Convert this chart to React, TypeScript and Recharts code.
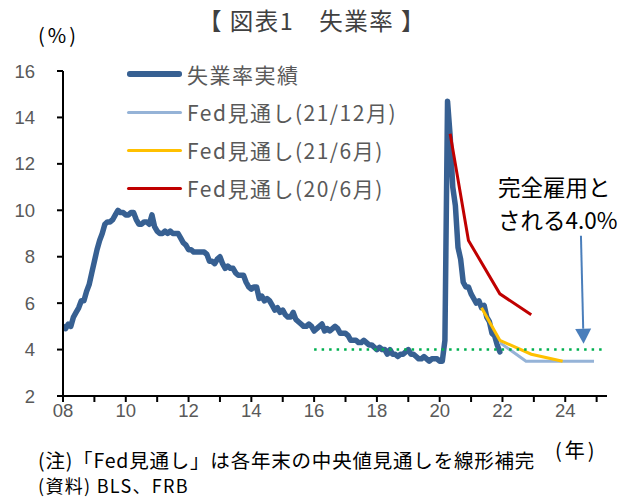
import { LineChart, Line, XAxis, YAxis, ReferenceLine } from "recharts";

// 失業率実績 (monthly, Jan-Dec per row, from 2008)
const startYear = 2008;
const actualRates: number[][] = [
  [5.0, 4.9, 5.1, 5.0, 5.4, 5.6, 5.8, 6.1, 6.1, 6.5, 6.8, 7.3],
  [7.8, 8.3, 8.7, 9.0, 9.4, 9.5, 9.5, 9.6, 9.8, 10.0, 9.9, 9.9],
  [9.8, 9.8, 9.9, 9.9, 9.6, 9.4, 9.4, 9.5, 9.5, 9.4, 9.8, 9.3],
  [9.1, 9.0, 9.0, 9.1, 9.0, 9.1, 9.0, 9.0, 9.0, 8.8, 8.6, 8.5],
  [8.3, 8.3, 8.2, 8.2, 8.2, 8.2, 8.2, 8.1, 7.8, 7.8, 7.7, 7.9],
  [8.0, 7.7, 7.5, 7.6, 7.5, 7.5, 7.3, 7.2, 7.2, 7.2, 6.9, 6.7],
  [6.6, 6.7, 6.7, 6.2, 6.3, 6.1, 6.2, 6.1, 5.9, 5.7, 5.8, 5.6],
  [5.7, 5.5, 5.4, 5.4, 5.6, 5.3, 5.2, 5.1, 5.0, 5.0, 5.1, 5.0],
  [4.8, 4.9, 5.0, 5.1, 4.8, 4.9, 4.8, 4.9, 5.0, 4.9, 4.7, 4.7],
  [4.7, 4.6, 4.4, 4.4, 4.4, 4.3, 4.3, 4.4, 4.3, 4.2, 4.2, 4.1],
  [4.0, 4.1, 4.0, 4.0, 3.8, 4.0, 3.8, 3.8, 3.7, 3.8, 3.8, 3.9],
  [4.0, 3.8, 3.8, 3.7, 3.6, 3.6, 3.7, 3.6, 3.5, 3.6, 3.6, 3.6],
  [3.5, 3.5, 4.4, 14.7, 13.2, 11.0, 10.2, 8.4, 7.9, 6.9, 6.7, 6.7],
  [6.4, 6.2, 6.0, 6.1, 5.8, 5.9, 5.4, 5.2, 4.7, 4.6, 4.2, 3.9],
];

// Fed見通し (線形補完の折れ点)
const fedDec21Dates = ["2021-12", "2022-10", "2024-12"];
const fedDec21Values = [4.3, 3.5, 3.5];
const fedJun21Dates = ["2021-05", "2021-12", "2022-12", "2023-12"];
const fedJun21Values = [5.8, 4.4, 3.8, 3.5];
const fedJun20Dates = ["2020-05", "2020-12", "2021-12", "2022-12"];
const fedJun20Values = [13.3, 8.7, 6.4, 5.5];

// 完全雇用 4.0%
const fullEmploymentDates = ["2016-01", "2025-04"];
const fullEmploymentRate = 4.0;
const arrowDates = ["2024-07", "2024-08"];
const arrowValues = [8.9, 4.25];

const yearTicks = [2008, 2009, 2010, 2011, 2012, 2013, 2014, 2015, 2016, 2017, 2018, 2019, 2020, 2021, 2022, 2023, 2024, 2025];
const rateTicks = [2, 4, 6, 8, 10, 12, 14, 16];

const legendItems = [
  { label: "失業率実績", color: "#376092", width: 5.5 },
  { label: "Fed見通し(21/12月)", color: "#95b3d7", width: 3 },
  { label: "Fed見通し(21/6月)", color: "#ffc000", width: 3 },
  { label: "Fed見通し(20/6月)", color: "#c00000", width: 3 },
];

const toYear = (ym: string) => {
  const [y, m] = ym.split("-").map(Number);
  return y + (m - 1) / 12;
};

const actualData = actualRates.flatMap((row, yi) =>
  row.map((v, mi) => ({ x: startYear + yi + mi / 12, y: v }))
);
const pairUp = (dates: string[], values: number[]) =>
  dates.map((d, i) => ({ x: toYear(d), y: values[i] }));

const fedDec21 = pairUp(fedDec21Dates, fedDec21Values);
const fedJun21 = pairUp(fedJun21Dates, fedJun21Values);
const fedJun20 = pairUp(fedJun20Dates, fedJun20Values);
const fullEmployment = fullEmploymentDates.map((d) => ({ x: toYear(d), y: fullEmploymentRate }));

const ArrowShape = (props: any) => {
  const { x1, y1, x2, y2 } = props;
  const dx = x2 - x1;
  const dy = y2 - y1;
  const len = Math.sqrt(dx * dx + dy * dy);
  const ux = dx / len;
  const uy = dy / len;
  const headLen = 15;
  const headHalf = 8;
  const bx = x2 - ux * headLen;
  const by = y2 - uy * headLen;
  const pts = `${x2},${y2} ${bx - uy * headHalf},${by + ux * headHalf} ${bx + uy * headHalf},${by - ux * headHalf}`;
  return (
    <g>
      <line x1={x1} y1={y1} x2={bx} y2={by} stroke="#4a7ebb" strokeWidth={2} />
      <polygon points={pts} fill="#4a7ebb" />
    </g>
  );
};

const tickFont = { fontSize: 18.5, fill: "#595959", fontFamily: "Liberation Sans, Arial, sans-serif" };

export default function App() {
  return (
    <div
      style={{
        position: "absolute",
        left: 0,
        top: 0,
        width: 623,
        height: 498,
        background: "#fff",
        overflow: "hidden",
        fontFamily: "'Noto Sans CJK JP', sans-serif",
      }}
    >
      <LineChart width={623} height={498} margin={{ top: 71, right: 16, bottom: 72, left: 0 }}>
        <XAxis
          dataKey="x"
          type="number"
          domain={[2008, 2025.33]}
          allowDataOverflow
          ticks={yearTicks}
          tickFormatter={(v: number) => (v % 2 === 0 ? String(v).slice(2) : "")}
          tickSize={6}
          tickMargin={2}
          height={30}
          stroke="#000"
          strokeWidth={2}
          tick={tickFont}
          interval={0}
        />
        <YAxis
          type="number"
          domain={[2, 16]}
          ticks={rateTicks}
          tickSize={6}
          tickMargin={22}
          width={63}
          stroke="#000"
          strokeWidth={2}
          tick={tickFont}
          interval={0}
        />
        <Line data={actualData} dataKey="y" type="linear" stroke="#376092" strokeWidth={5.5}
          strokeLinejoin="round" strokeLinecap="round" dot={false} activeDot={false} isAnimationActive={false} />
        <Line data={fedDec21} dataKey="y" type="linear" stroke="#95b3d7" strokeWidth={3}
          dot={false} activeDot={false} isAnimationActive={false} />
        <Line data={fedJun21} dataKey="y" type="linear" stroke="#ffc000" strokeWidth={3}
          dot={false} activeDot={false} isAnimationActive={false} />
        <Line data={fedJun20} dataKey="y" type="linear" stroke="#c00000" strokeWidth={3}
          dot={false} activeDot={false} isAnimationActive={false} />
        <Line data={fullEmployment} dataKey="y" type="linear" stroke="#00b050" strokeWidth={2.5}
          strokeDasharray="2.5 5" dot={false} activeDot={false} isAnimationActive={false} />
        <ReferenceLine
          segment={[
            { x: toYear(arrowDates[0]), y: arrowValues[0] },
            { x: toYear(arrowDates[1]), y: arrowValues[1] },
          ]}
          shape={ArrowShape}
        />
      </LineChart>

      <div style={{ position: "absolute", left: 0, width: 624, top: 5, textAlign: "center", fontSize: 23.5, lineHeight: "30px", color: "#404040", letterSpacing: 1.5 }}>
        【 図表1　失業率 】
      </div>
      <div style={{ position: "absolute", left: 38, top: 23, fontSize: 20, lineHeight: "24px", color: "#000", letterSpacing: 3 }}>(%)</div>

      {legendItems.map((item, i) => (
        <div key={item.label} style={{ position: "absolute", left: 127, top: 74 + i * 38 - 15, height: 30, display: "flex", alignItems: "center" }}>
          <div style={{ width: 55, height: item.width, background: item.color, borderRadius: item.width / 2 }} />
          <span style={{ marginLeft: 5, fontSize: 21, color: "#595959", letterSpacing: 1.5, whiteSpace: "nowrap" }}>{item.label}</span>
        </div>
      ))}

      <div style={{ position: "absolute", left: 498, top: 170, fontSize: 22.5, lineHeight: "33px", color: "#000", whiteSpace: "nowrap" }}>
        完全雇用と<br />される4.0%
      </div>

      <div style={{ position: "absolute", left: 555, top: 438, fontSize: 20, lineHeight: "24px", color: "#000", letterSpacing: 3 }}>(年)</div>
      <div style={{ position: "absolute", left: 38, top: 446, fontSize: 19.5, lineHeight: "28px", color: "#000", letterSpacing: 0.8, whiteSpace: "nowrap" }}>
        (注)「Fed見通し」は各年末の中央値見通しを線形補完
      </div>
      <div style={{ position: "absolute", left: 38, top: 472, fontSize: 18, lineHeight: "26px", color: "#000", letterSpacing: 1.3, whiteSpace: "nowrap" }}>
        (資料) BLS、FRB
      </div>
    </div>
  );
}
